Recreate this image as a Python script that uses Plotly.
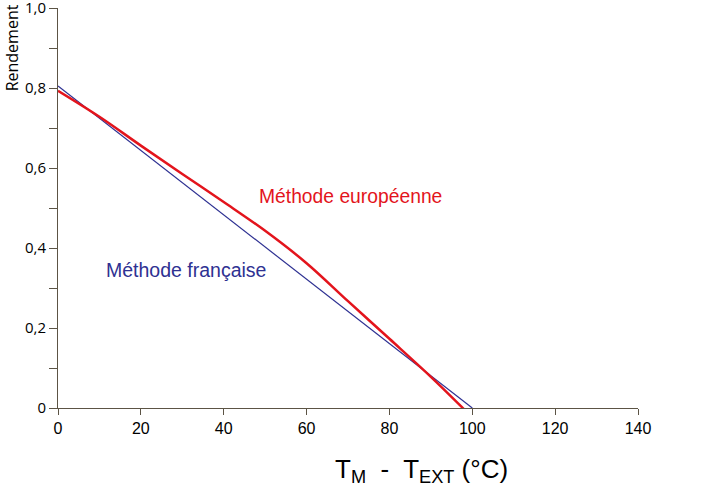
import plotly.graph_objects as go

# écart de température T_M - T_EXT (°C)
x_francaise = [0, 100]
rdt_francaise = [0.805, 0.0]

x_europeenne = [0, 10, 20, 30, 40, 50, 60, 70, 80, 90, 98]
rdt_europeenne = [0.793, 0.728, 0.656, 0.585, 0.515, 0.443, 0.362, 0.267, 0.173, 0.078, -0.003]

x_ticks = [0, 20, 40, 60, 80, 100, 120, 140]
y_ticks = [0, 0.2, 0.4, 0.6, 0.8, 1.0]
y_labels = ['0', '0,2', '0,4', '0,6', '0,8', '1,0']

axis_color = '#5c5445'

fig = go.Figure()
fig.add_trace(go.Scatter(
    x=x_francaise, y=rdt_francaise, mode='lines',
    line=dict(color='#2e3192', width=1.2), name='Méthode française'
))
fig.add_trace(go.Scatter(
    x=x_europeenne, y=rdt_europeenne, mode='lines',
    line=dict(color='#e3141c', width=2.5, shape='spline', smoothing=1.0),
    name='Méthode européenne'
))

fig.add_annotation(x=70.5, y=0.53, xref='x', yref='y', text='Méthode européenne',
                   showarrow=False, font=dict(color='#e3141c', size=19.3))
fig.add_annotation(x=11.0, y=0.345, xref='x', yref='y', text='Méthode française',
                   showarrow=False, xanchor='left', font=dict(color='#2e3192', size=19.5))
fig.add_annotation(x=-0.102, y=1.015, xref='paper', yref='paper', text='Rendement',
                   showarrow=False, textangle=-90, xanchor='left', yanchor='top',
                   font=dict(color='black', size=16, family='Open Sans'))
fig.add_annotation(x=0.627, y=-0.11, xref='paper', yref='paper',
                   text='T<sub>M</sub>  -  T<sub>EXT</sub> (°C)',
                   showarrow=False, yanchor='top', font=dict(color='black', size=26))

fig.update_xaxes(range=[0, 140], tickvals=x_ticks, showgrid=False, zeroline=False,
                 showline=True, linecolor=axis_color, linewidth=1, automargin=False,
                 ticks='outside', ticklen=6, tickcolor=axis_color,
                 tickfont=dict(size=16, color='black'))
fig.update_yaxes(range=[0, 1.0], tickvals=y_ticks, ticktext=y_labels, showgrid=False,
                 zeroline=False, showline=True, linecolor=axis_color, linewidth=1,
                 automargin=False, ticks='outside', ticklen=8, tickcolor=axis_color,
                 ticklabeloverflow='allow',
                 tickfont=dict(size=15, color='black', family='Open Sans'),
                 minor=dict(dtick=0.1, ticks='outside', ticklen=8, tickcolor=axis_color))

fig.update_layout(
    width=702, height=498, showlegend=False,
    margin=dict(l=58, r=64, t=8, b=90),
    plot_bgcolor='white', paper_bgcolor='white',
    font=dict(family='Liberation Sans, Arial, sans-serif')
)

fig.write_html('out.html', config={'displayModeBar': False},
               post_script="document.body.style.margin='0';")
